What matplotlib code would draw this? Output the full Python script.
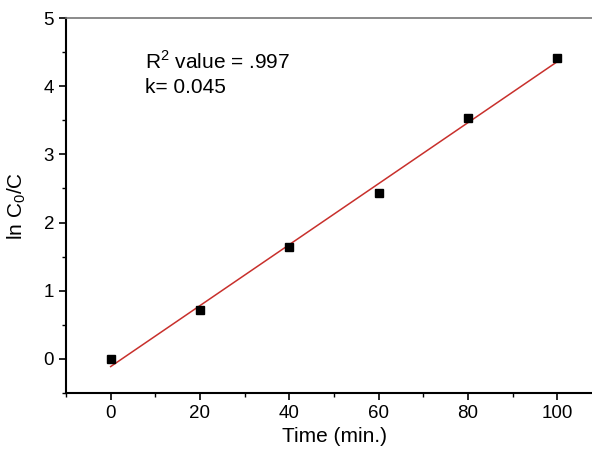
import matplotlib
matplotlib.use('Agg')
import matplotlib.pyplot as plt
from matplotlib.ticker import MultipleLocator
import numpy as np

plt.rcParams['font.family'] = ['Liberation Sans', 'DejaVu Sans']
plt.rcParams['mathtext.fontset'] = 'custom'
plt.rcParams['mathtext.rm'] = 'Liberation Sans'

# temps (min) et ln C0/C mesurés
temps = np.array([0, 20, 40, 60, 80, 100])
ln_c0_c = np.array([0.0, 0.72, 1.64, 2.43, 3.54, 4.41])

# régression linéaire (cinétique de pseudo-premier ordre)
pente, ordonnee = np.polyfit(temps, ln_c0_c, 1)
x_fit = np.array([0, 100])
y_fit = pente * x_fit + ordonnee

fig = plt.figure(figsize=(5.92, 4.51), dpi=100)
ax = fig.add_axes([0.1115, 0.1286, 0.8885, 0.8314])

ax.plot(x_fit, y_fit, color='#c8302c', linewidth=1.1, zorder=2)
ax.plot(temps, ln_c0_c, 's', color='black', markersize=6.3, zorder=3)

ax.set_xlim(-10, 107.8)
ax.set_ylim(-0.5, 5)
ax.xaxis.set_major_locator(MultipleLocator(20))
ax.xaxis.set_minor_locator(MultipleLocator(10))
ax.yaxis.set_major_locator(MultipleLocator(1))
ax.yaxis.set_minor_locator(MultipleLocator(0.5))
ax.tick_params(which='major', direction='out', length=5, width=1.2, labelsize=13.5)
ax.tick_params(which='minor', direction='out', length=3, width=1.0)

for cote in ['left', 'bottom']:
    ax.spines[cote].set_linewidth(1.5)
ax.spines['right'].set_visible(False)
ax.spines['top'].set_color('#777777')
ax.spines['top'].set_linewidth(1.2)

ax.set_xlabel('Time (min.)', fontsize=15)
ax.set_ylabel('ln C$_\\mathregular{0}$/C', fontsize=15)
ax.xaxis.set_label_coords(0.51, -0.09)
ax.yaxis.set_label_coords(-0.072, 0.5)

ax.text(7.8, 4.36, 'R$^\\mathregular{2}$ value = .997', fontsize=15, va='center')
ax.text(7.8, 3.98, 'k= 0.045', fontsize=15, va='center')

fig.savefig('out.png', dpi=100)
